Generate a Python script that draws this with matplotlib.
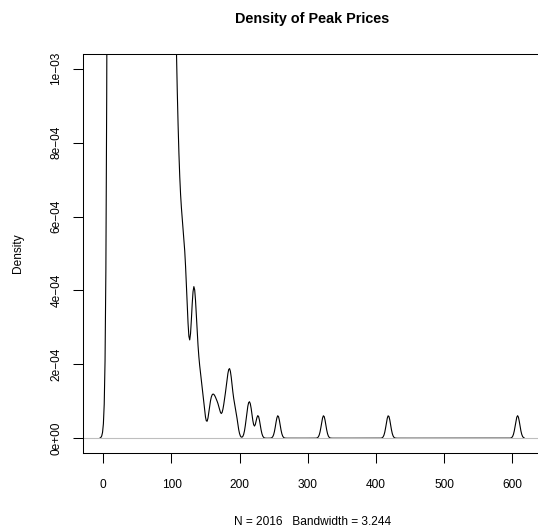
import numpy as np
import matplotlib.pyplot as plt

plt.rcParams['font.family'] = ['Liberation Sans', 'DejaVu Sans']

# ---------------------------- data: peak prices
# prices seen on many days (price, number of days)
main_price = [5, 9, 10, 11, 12, 13, 14, 17, 22, 27, 32, 37, 42, 47, 52, 57, 62, 67, 72, 77, 82,
              85, 86, 87, 88, 89, 90, 91, 92, 93, 94, 95, 96, 97, 98, 99,
              100, 101, 102, 103, 104, 105, 106, 107, 108, 109, 110, 111, 112, 113, 114,
              115, 116, 117, 118, 119, 120, 121, 122, 123, 124]
main_count = [1, 3, 10, 25, 30, 30, 30, 150, 165, 175, 180, 175, 165, 150, 130, 110, 95, 75, 65, 52, 41,
              8, 8, 7, 7, 7, 6, 6, 6, 5, 5, 5, 5, 4, 4, 4,
              3, 3, 3, 3, 3, 3, 2, 2, 2, 1, 2, 2, 1, 1, 1,
              1, 2, 1, 1, 1, 1, 1, 1, 1, 1]
# single days in the upper tail
tail_price = [129, 130, 131, 132, 133, 134, 135, 136, 138, 141, 143, 147,
              156.5, 160.5, 164.5, 169.5, 177, 181.5, 184, 186, 188.5, 194,
              212, 216.2, 226.8, 256, 323, 418, 607.5]
bandwidth = 3.244

x_ticks = [0, 100, 200, 300, 400, 500, 600]
y_ticks = [0, 2e-4, 4e-4, 6e-4, 8e-4, 1e-3]
y_tick_labels = ['0e+00', '2e\u221204', '4e\u221204', '6e\u221204', '8e\u221204', '1e\u221203']

# ---------------------------- gaussian kernel density, like R density()
prices = np.array(main_price + tail_price, dtype=float)
weights = np.array(main_count + [1] * len(tail_price), dtype=float)
n_obs = int(weights.sum())

grid = np.linspace(prices.min() - 3 * bandwidth, prices.max() + 3 * bandwidth, 512)
z = (grid[:, None] - prices[None, :]) / bandwidth
dens = (np.exp(-0.5 * z ** 2) * weights).sum(axis=1) / (n_obs * bandwidth * np.sqrt(2 * np.pi))

# ---------------------------- plot
fig = plt.figure(figsize=(5.38, 5.30), dpi=100)
ax = fig.add_axes([83.1 / 538, 77 / 530, 458.1 / 538, 399 / 530])

ax.plot(grid, dens, color='black', lw=0.8)
ax.axhline(0, color='#bebebe', lw=0.8)

span = grid.max() - grid.min()
ax.set_xlim(grid.min() - 0.04 * span, grid.max() + 0.04 * span)
ax.set_ylim(-0.04e-3, 1.04e-3)

ax.set_xticks(x_ticks)
ax.set_yticks(y_ticks)
ax.set_yticklabels(y_tick_labels, rotation=90, va='center')
ax.tick_params(direction='out', length=7, width=0.75, labelsize=8.6, color='black')
ax.tick_params(axis='x', pad=11.5)
ax.tick_params(axis='y', pad=8)
for s in ax.spines.values():
    s.set_linewidth(0.75)

ax.set_title('Density of Peak Prices', fontsize=10.4, fontweight='bold', pad=22.5)
ax.set_xlabel('N = {}   Bandwidth = {}'.format(n_obs, bandwidth), fontsize=8.6)
ax.xaxis.set_label_coords(0.5, -(522 - 453) / 399)
ax.xaxis.label.set_va('center')
ax.set_ylabel('Density', fontsize=8.6)
ax.yaxis.set_label_coords(-(83 - 18) / 458.1, 0.5)
ax.yaxis.label.set_va('center')

fig.savefig('out.png', dpi=100)
